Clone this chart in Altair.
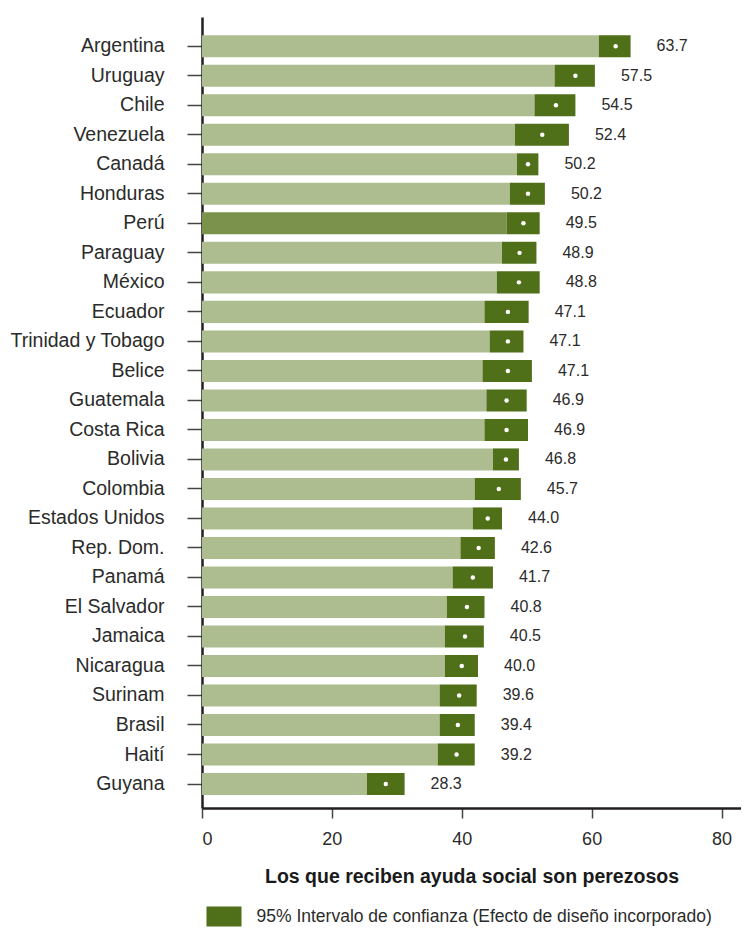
import altair as alt
import pandas as pd

paises = ["Argentina", "Uruguay", "Chile", "Venezuela", "Canadá", "Honduras", "Perú",
          "Paraguay", "México", "Ecuador", "Trinidad y Tobago", "Belice", "Guatemala",
          "Costa Rica", "Bolivia", "Colombia", "Estados Unidos", "Rep. Dom.", "Panamá",
          "El Salvador", "Jamaica", "Nicaragua", "Surinam", "Brasil", "Haití", "Guyana"]
media = [63.7, 57.5, 54.5, 52.4, 50.2, 50.2, 49.5, 48.9, 48.8, 47.1, 47.1, 47.1, 46.9,
         46.9, 46.8, 45.7, 44.0, 42.6, 41.7, 40.8, 40.5, 40.0, 39.6, 39.4, 39.2, 28.3]
inferior = [61.1, 54.3, 51.2, 48.2, 48.5, 47.4, 46.9, 46.2, 45.4, 43.5, 44.3, 43.2, 43.8,
            43.5, 44.8, 42.0, 41.7, 39.8, 38.6, 37.7, 37.4, 37.4, 36.6, 36.6, 36.3, 25.4]
superior = [66.0, 60.5, 57.5, 56.5, 51.8, 52.8, 52.0, 51.5, 52.0, 50.3, 49.5, 50.8, 50.0,
            50.2, 48.8, 49.1, 46.2, 45.1, 44.8, 43.5, 43.4, 42.5, 42.3, 42.0, 42.0, 31.2]
etiqueta_ic = "95% Intervalo de confianza (Efecto de diseño incorporado)"

df = pd.DataFrame({
    "pais": paises,
    "media": media,
    "inf": inferior,
    "sup": superior,
    "cero": [0] * len(paises),
    "ic": [etiqueta_ic] * len(paises),
})

FONT = "Liberation Sans, Arial, sans-serif"
TXT = "#2b2b2b"
LIGHT = "#adbd8f"
PERU = "#7a924b"
DARK = "#4f6f19"

y_enc = alt.Y("pais:N", sort=paises, title=None,
              scale=alt.Scale(paddingInner=0.254, paddingOuter=0.53, align=0.585),
              axis=alt.Axis(labelFontSize=19.5, labelFont=FONT, labelColor=TXT,
                            tickSize=15, tickColor="#444444", tickWidth=1.5,
                            labelPadding=23, domainColor="#231f20", domainWidth=2.5,
                            minExtent=194, maxExtent=194))
x_scale = alt.Scale(domain=[0, 83], nice=False)
x_axis = alt.Axis(values=[0, 20, 40, 60, 80], labelFontSize=18, labelFont=FONT,
                  labelColor=TXT, tickSize=10, tickColor="#444444", tickWidth=1.5,
                  labelPadding=12, domainColor="#231f20", domainWidth=2.5,
                  title="Los que reciben ayuda social son perezosos",
                  titleFont=FONT, titleFontSize=19.5, titleFontWeight="bold",
                  titleColor="#1a1a1a", titlePadding=19)

base = alt.Chart(df)

barra = base.mark_bar().encode(
    y=y_enc,
    x=alt.X("cero:Q", scale=x_scale, axis=x_axis),
    x2="inf:Q",
    color=alt.condition(alt.datum.pais == "Perú", alt.value(PERU), alt.value(LIGHT)),
)

ic = base.mark_bar().encode(
    y=alt.Y("pais:N", sort=paises),
    x=alt.X("inf:Q", scale=x_scale),
    x2="sup:Q",
    color=alt.Color("ic:N", scale=alt.Scale(range=[DARK]), title=None,
                    legend=alt.Legend(orient="none", legendX=4.5, legendY=882,
                                      symbolType="M-1,-0.571H1V0.571H-1Z",
                                      symbolSize=1225, symbolStrokeWidth=0,
                                      symbolOpacity=1,
                                      labelFont=FONT, labelFontSize=17.5,
                                      labelColor=TXT, labelOffset=15,
                                      labelLimit=700, padding=0)),
)

punto = base.mark_point(filled=True, color="white", opacity=1, size=20).encode(
    y=alt.Y("pais:N", sort=paises),
    x=alt.X("media:Q", scale=x_scale),
)

texto = base.mark_text(align="left", baseline="middle", dx=26, fontSize=16,
                       font=FONT, color=TXT).encode(
    y=alt.Y("pais:N", sort=paises),
    x=alt.X("sup:Q", scale=x_scale),
    text=alt.Text("media:Q", format=".1f"),
)

chart = alt.layer(barra, ic, punto, texto).properties(
    width=539, height=791,
    padding={"left": 0, "top": 9, "right": 0, "bottom": 0},
).configure_view(stroke=None).configure_axis(grid=False)

chart.save("out.html", embed_options={"renderer": "svg", "actions": False})
